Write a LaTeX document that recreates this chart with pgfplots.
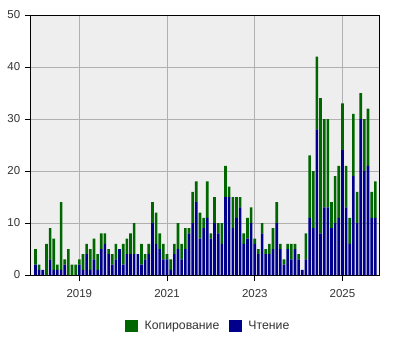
\documentclass[border=0pt]{standalone}
\usepackage{pgfplots}
\pgfplotsset{compat=1.18}
\usepackage{pgfplotstable}
\usepackage{fontspec}
\setmainfont{Liberation Sans}
\definecolor{cgreen}{RGB}{0,102,0}
\definecolor{cblue}{RGB}{0,0,140}
\definecolor{bgc}{RGB}{238,238,238}
\definecolor{gridc}{RGB}{176,176,176}
\definecolor{txt}{RGB}{51,51,51}

\pgfplotstableread{
m r c
0 2 3
1 1 1
2 1 0
3 0 6
4 3 6
5 1 6
6 1 1
7 1 13
8 2 1
9 0 5
10 0 2
11 0 2
12 2 1
13 1 3
14 4 2
15 1 4
16 3 4
17 1 3
18 5 3
19 6 2
20 4 1
21 2 2
22 3 3
23 5 0
24 2 4
25 4 3
26 4 4
27 4 6
28 4 0
29 2 4
30 3 1
31 4 2
32 10 4
33 6 6
34 5 3
35 3 3
36 3 1
37 1 2
38 4 2
39 5 5
40 3 3
41 5 4
42 8 1
43 10 6
44 14 4
45 7 5
46 9 2
47 11 7
48 7 1
49 10 5
50 8 2
51 6 4
52 15 6
53 15 2
54 9 6
55 11 4
56 13 2
57 6 2
58 7 4
59 10 3
60 6 1
61 4 1
62 8 2
63 4 1
64 4 2
65 5 4
66 10 4
67 5 1
68 2 1
69 5 1
70 3 3
71 5 1
72 3 1
73 1 0
74 3 5
75 11 12
76 9 11
77 28 14
78 8 26
79 13 17
80 13 17
81 9 5
82 10 9
83 11 10
84 24 9
85 13 8
86 6 5
87 19 12
88 10 6
89 30 5
90 20 10
91 21 11
92 11 5
93 11 7
}\data

\begin{document}
\fontsize{8.6pt}{10pt}\selectfont
\begin{tikzpicture}
\path[use as bounding box] (0pt,0pt) rectangle (300pt,-262.5pt);
\begin{axis}[
  at={(23.25pt,-11.25pt)}, anchor=north west,
  scale only axis,
  width=261pt, height=195pt,
  ybar stacked,
  bar width=0.72,
  xmin=-1.23, xmax=94.0,
  ymin=0, ymax=50,
  ytick={0,10,20,30,40,50},
  xtick={12,36,60,84},
  xticklabels={2019,2021,2023,2025},
  axis background/.style={fill=bgc},
  axis line style={black, line width=0.75pt},
  grid=major,
  major grid style={gridc, line width=0.75pt},
  tick align=outside,
  tick pos=left,
  major tick length=4.5pt,
  tick style={black, line width=0.75pt},
  ticklabel style={font=\fontsize{8.6pt}{10pt}\selectfont, text=txt},
  /pgf/number format/assume math mode=true,
  xticklabel style={yshift=-3pt},
  yticklabel style={xshift=-0.5pt},
  reverse legend,
  legend columns=-1,
  legend style={at={(0.51,-0.196)}, anchor=center, draw=none, fill=none,
    font=\fontsize{9.2pt}{10pt}\selectfont, text=txt,
    /tikz/every odd column/.append style={column sep=3pt},
    /tikz/every even column/.append style={column sep=5pt}},
  legend image code/.code={\fill[#1] (0pt,-4.5pt) rectangle (9.75pt,4.5pt);},
]
\addplot[fill=cblue, draw=none] table[x=m, y=r] {\data};
\addlegendentry{Чтение}
\addplot[fill=cgreen, draw=none] table[x=m, y=c] {\data};
\addlegendentry{Копирование}
\end{axis}
\end{tikzpicture}
\end{document}
